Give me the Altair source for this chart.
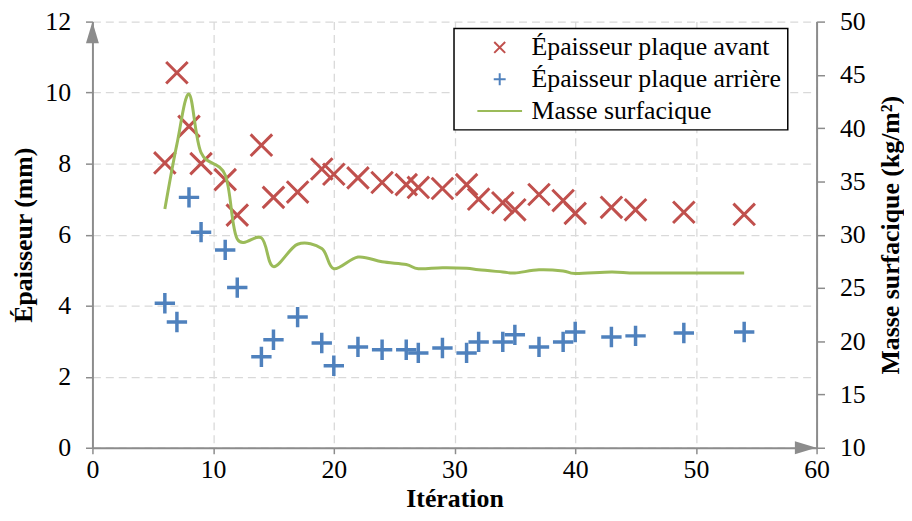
import altair as alt
import pandas as pd

# ---- data ----
iterations = [6, 7, 8, 9, 11, 12, 14, 15, 17, 19, 20, 22, 24, 26, 27, 29, 31, 32, 34, 35, 37, 39, 40, 43, 45, 49, 54]
ep_avant = [8.02, 10.56, 9.05, 8.0, 7.55, 6.55, 8.52, 7.05, 7.2, 7.85, 7.7, 7.6, 7.47, 7.41, 7.33, 7.3, 7.41, 7.0,
            6.9, 6.7, 7.13, 6.96, 6.6, 6.77, 6.7, 6.63, 6.57]
ep_arriere = [4.07, 3.54, 7.05, 6.07, 5.57, 4.51, 2.56, 3.04, 3.68, 2.95, 2.31, 2.84, 2.76, 2.76, 2.67, 2.81, 2.67,
              2.98, 2.98, 3.18, 2.84, 2.98, 3.26, 3.12, 3.15, 3.23, 3.26]
masse = [32.4, 38.5, 43.2, 37.7, 35.6, 29.6, 29.7, 27.0, 29.1, 28.7, 26.8, 27.9, 27.45, 27.2, 26.8, 26.9, 26.85,
         26.7, 26.5, 26.4, 26.7, 26.6, 26.35, 26.5, 26.4, 26.4, 26.4]
series_names = ["Épaisseur plaque avant", "Épaisseur plaque arrière", "Masse surfacique"]
x_ticks = [0, 10, 20, 30, 40, 50, 60]
yl_ticks = [0, 2, 4, 6, 8, 10, 12]
yr_ticks = [10, 15, 20, 25, 30, 35, 40, 45, 50]

df = pd.DataFrame({"it": iterations, "avant": ep_avant, "arriere": ep_arriere, "masse": masse})
arrow_up = pd.DataFrame({"it": [0], "v": [12]})
arrow_right = pd.DataFrame({"it": [60], "v": [0]})
legend_df = pd.DataFrame({"series": series_names})

FONT = "Liberation Serif"
RED = "#C0504D"
BLUE = "#4F81BD"
GREEN = "#9BBB59"
AXIS = "#8C8C8C"
GRID = "#D9D9D9"

XPATH = "M-1,-1L1,1M-1,1L1,-1"
PPATH = "M-1,0L1,0M0,-1L0,1"
LX = "M-0.55,-0.55L0.55,0.55M-0.55,0.55L0.55,-0.55"
LP = "M-0.6,0L0.6,0M0,-0.6L0,0.6"
LLINE = "M-2.25,0L2.25,0"
TRI_UP = "M0,-1L0.6,1L-0.6,1Z"
TRI_RIGHT = "M1,0L-1,0.6L-1,-0.6Z"

x_axis = alt.Axis(title="Itération", values=x_ticks, grid=True, gridDash=[8, 5], gridColor=GRID, gridWidth=1.3,
                  domainColor=AXIS, domainWidth=2, tickColor=AXIS, tickSize=6, tickWidth=1.5,
                  labelFont=FONT, labelFontSize=26, labelColor="black", labelPadding=3, labelFlush=False,
                  titleFont=FONT, titleFontSize=26, titleFontWeight="bold", titleColor="black", titlePadding=3)
x_enc = alt.X("it:Q", scale=alt.Scale(domain=[0, 60], nice=False, zero=False), axis=x_axis)

yl_axis = alt.Axis(title="Épaisseur (mm)", values=yl_ticks, grid=True, gridDash=[8, 5], gridColor=GRID,
                   gridWidth=1.3, domainColor=AXIS, domainWidth=2, tickColor=AXIS, tickSize=7, tickWidth=1.5,
                   labelFont=FONT, labelFontSize=26, labelColor="black", labelPadding=15, labelFlush=False,
                   titleFont=FONT, titleFontSize=26, titleFontWeight="bold", titleColor="black", titlePadding=8)
yl_scale = alt.Scale(domain=[0, 12], nice=False)

red = alt.Chart(df).mark_point(shape=XPATH, filled=False, color=RED, size=470, strokeWidth=3, opacity=1).encode(
    x=x_enc, y=alt.Y("avant:Q", scale=yl_scale, axis=yl_axis))
blue = alt.Chart(df).mark_point(shape=PPATH, filled=False, color=BLUE, size=420, strokeWidth=3.5, opacity=1).encode(
    x=x_enc, y=alt.Y("arriere:Q", scale=yl_scale, axis=yl_axis))
up = alt.Chart(arrow_up).mark_point(shape=TRI_UP, filled=True, color=AXIS, size=470, opacity=1, yOffset=11).encode(
    x=x_enc, y=alt.Y("v:Q", scale=yl_scale, axis=yl_axis))
right = alt.Chart(arrow_right).mark_point(shape=TRI_RIGHT, filled=True, color=AXIS, size=470, opacity=1,
                                          xOffset=-11).encode(
    x=x_enc, y=alt.Y("v:Q", scale=yl_scale, axis=yl_axis))

leg = alt.Legend(title=None, orient="none", legendX=364, legendY=7, fillColor="white", strokeColor="black",
                 padding=6, cornerRadius=0, labelFont=FONT, labelFontSize=26,
                 labelColor="black", symbolSize=400, symbolStrokeWidth=2, symbolOffset=27, labelOffset=19,
                 rowPadding=6, labelLimit=400)
legend_layer = alt.Chart(legend_df).transform_filter("false").mark_point(filled=False, opacity=1).encode(
    color=alt.Color("series:N", scale=alt.Scale(domain=series_names, range=[RED, BLUE, GREEN]), legend=leg),
    shape=alt.Shape("series:N", scale=alt.Scale(domain=series_names, range=[LX, LP, LLINE]), legend=leg),
)

left = alt.layer(red, blue, up, right, legend_layer)

yr_axis = alt.Axis(title="Masse surfacique (kg/m²)", orient="right", values=yr_ticks, grid=False,
                   domainColor=AXIS, domainWidth=2, tickColor=AXIS, tickSize=8, tickWidth=1.5,
                   labelFont=FONT, labelFontSize=26, labelColor="black", labelPadding=15, labelFlush=False,
                   titleFont=FONT, titleFontSize=26, titleFontWeight="bold", titleColor="black", titlePadding=12,
                   titleAngle=270, titleBaseline="top")
line = alt.Chart(df).mark_line(color=GREEN, strokeWidth=3, interpolate="cardinal").encode(
    x=x_enc, y=alt.Y("masse:Q", scale=alt.Scale(domain=[10, 50], nice=False, zero=False), axis=yr_axis))

chart = alt.layer(left, line).resolve_scale(y="independent").properties(
    width=729, height=429,
    autosize=alt.AutoSizeParams(type="none"),
    padding={"left": 85, "top": 12, "right": 88, "bottom": 64},
    background="white",
).configure(font=FONT).configure_view(stroke=None).configure_legend(strokeWidth=1.5, labelFont=FONT
).configure_axis(labelFont=FONT, titleFont=FONT)

chart.save("out.html", embed_options={"renderer": "svg", "actions": False})
